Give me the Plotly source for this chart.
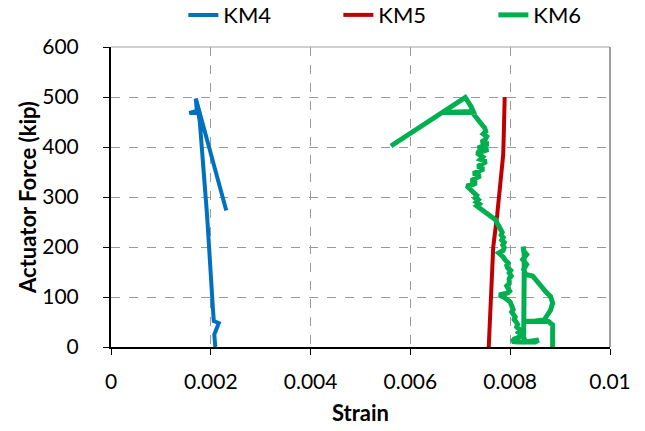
import plotly.graph_objects as go

# ---- data ----
km4_strain = [0.00209, 0.00208, 0.00207, 0.00216, 0.00206, 0.00204, 0.00203, 0.00201, 0.00199, 0.00198,
              0.00196, 0.00194, 0.00192, 0.00190, 0.00188, 0.00186, 0.00184, 0.00181, 0.00178, 0.00175,
              0.00173, 0.00157, 0.00172, 0.00170, 0.00231]
km4_force = [0, 10, 25, 48, 52, 80, 100, 130, 160, 180,
             210, 240, 270, 300, 330, 360, 390, 420, 450, 468,
             468, 468, 472, 497, 273]

km5_strain = [0.00757, 0.00761, 0.00766, 0.00774, 0.00780, 0.00786, 0.00787, 0.00789]
km5_force = [0, 100, 200, 265, 330, 385, 420, 500]

km6_strain = [0.00885, 0.00886, 0.00885, 0.00877, 0.00850, 0.00827, 0.00850, 0.00868, 0.00875, 0.00881,
              0.00885, 0.00881, 0.00871, 0.00861, 0.00851, 0.00845, 0.00831, 0.00827, 0.00833, 0.00825,
              0.00833, 0.00827, 0.00826, 0.00828, 0.00828, 0.00827, 0.00827, 0.00827, 0.00830, 0.00845,
              0.00857, 0.00850, 0.00835, 0.00815, 0.00804, 0.00808, 0.00818, 0.00823, 0.00816, 0.00819,
              0.00813, 0.00815, 0.00812, 0.00808, 0.00810, 0.00806, 0.00803, 0.00806, 0.00804, 0.00800,
              0.00790, 0.00778, 0.00795, 0.00799, 0.00796, 0.00793, 0.00798, 0.00797, 0.00798, 0.00802,
              0.00798, 0.00801, 0.00795, 0.00793, 0.00796, 0.00790, 0.00786, 0.00777, 0.00786, 0.00788,
              0.00785, 0.00788, 0.00783, 0.00786, 0.00782, 0.00784, 0.00780, 0.00778, 0.00773, 0.00770,
              0.00763, 0.00755, 0.00748, 0.00742, 0.00733, 0.00738, 0.00732, 0.00736, 0.00730, 0.00733,
              0.00728, 0.00716, 0.00713, 0.00725, 0.00732, 0.00722, 0.00731, 0.00740, 0.00726, 0.00735,
              0.00747, 0.00735, 0.00744, 0.00752, 0.00740, 0.00745, 0.00733, 0.00745, 0.00756, 0.00735,
              0.00745, 0.00756, 0.00742, 0.00750, 0.00753, 0.00746, 0.00751, 0.00749, 0.00744, 0.00740,
              0.00736, 0.00733, 0.00728, 0.00724, 0.00663, 0.00726, 0.00722, 0.00716, 0.00710, 0.00561]
km6_force = [0, 20, 44, 51, 51, 51, 52, 54, 64, 74,
             88, 101, 111, 122, 132, 142, 145, 155, 165, 175,
             185, 192, 201, 185, 140, 100, 60, 20, 10, 13,
             14, 10, 9, 10, 11, 16, 20, 26, 30, 35,
             40, 45, 50, 55, 60, 64, 70, 75, 82, 90,
             98, 104, 108, 112, 117, 122, 127, 132, 137, 142,
             148, 153, 158, 163, 168, 174, 180, 188, 193, 199,
             204, 209, 214, 219, 224, 229, 236, 244, 250, 255,
             260, 266, 272, 277, 282, 286, 290, 294, 298, 303,
             308, 318, 322, 325, 328, 333, 337, 342, 347, 351,
             356, 361, 366, 371, 375, 380, 388, 391, 395, 398,
             402, 406, 410, 415, 421, 426, 431, 438, 444, 449,
             455, 460, 465, 469, 469, 471, 480, 490, 499, 402]

x_tickvals = [0, 0.002, 0.004, 0.006, 0.008, 0.01]
x_ticktext = ["0", "0.002", "0.004", "0.006", "0.008", "0.01"]
y_tickvals = [0, 100, 200, 300, 400, 500, 600]

FONT = "Lato, Calibri, Arial, sans-serif"

fig = go.Figure()
fig.add_trace(go.Scatter(x=km4_strain, y=km4_force, mode="lines", name="KM4",
                         line=dict(color="#0070C0", width=4)))
fig.add_trace(go.Scatter(x=km5_strain, y=km5_force, mode="lines", name="KM5",
                         line=dict(color="#C00000", width=4)))
fig.add_trace(go.Scatter(x=km6_strain, y=km6_force, mode="lines", name="KM6",
                         line=dict(color="#00B050", width=5)))

fig.update_layout(
    width=645, height=431,
    margin=dict(l=111, r=35, t=47, b=84, autoexpand=False),
    paper_bgcolor="white", plot_bgcolor="white",
    font=dict(family=FONT, size=21, color="#000000"),
    showlegend=True,
    legend=dict(orientation="h", xref="paper", x=0.145, xanchor="left",
                yref="container", y=0.965, yanchor="middle",
                entrywidth=110, entrywidthmode="pixels",
                font=dict(family=FONT, size=22, color="#000000"),
                bgcolor="rgba(0,0,0,0)", itemwidth=30),
    xaxis=dict(range=[0, 0.01], tickvals=x_tickvals, ticktext=x_ticktext, automargin=False,
               showgrid=True, gridcolor="#9a9a9a", griddash="dash", gridwidth=1,
               zeroline=False, showline=True, linecolor="#000000", linewidth=2,
               ticks="outside", ticklen=6, tickcolor="#000000", tickwidth=1,
               ticklabelstandoff=9,
               title=dict(text="<b>Strain</b>", font=dict(family=FONT, size=22), standoff=13)),
    yaxis=dict(range=[0, 600], tickvals=y_tickvals, automargin=False,
               showgrid=True, gridcolor="#9a9a9a", griddash="dash", gridwidth=1,
               zeroline=False, showline=True, linecolor="#000000", linewidth=2,
               ticks="outside", ticklen=6, tickcolor="#000000", tickwidth=1,
               ticklabelstandoff=20,
               title=dict(text="<b>Actuator Force (kip)</b>", font=dict(family=FONT, size=22), standoff=0)),
    shapes=[
        dict(type="line", xref="paper", yref="paper", x0=0, x1=1, y0=1, y1=1,
             line=dict(color="#a0a0a0", width=1)),
        dict(type="line", xref="paper", yref="paper", x0=1, x1=1, y0=0, y1=1,
             line=dict(color="#404040", width=1)),
    ],
)

fig.write_html("out.html", config={"displayModeBar": False},
               post_script="document.body.style.margin='0px';")
